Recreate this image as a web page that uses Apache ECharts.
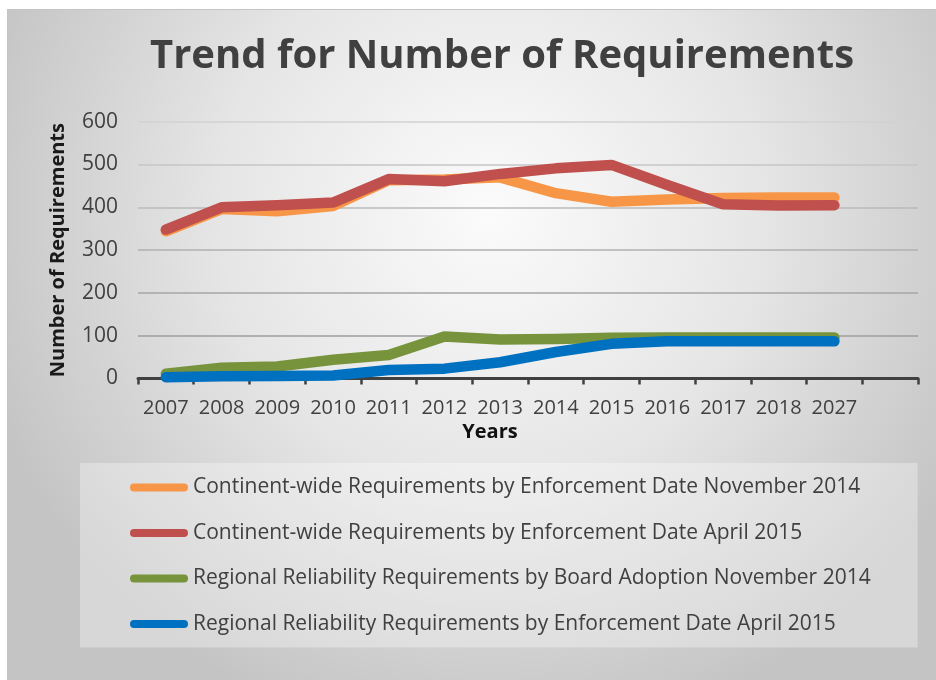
<!DOCTYPE html>
<html>
<head>
<meta charset="utf-8">
<script src="https://cdn.jsdelivr.net/npm/echarts@6/dist/echarts.min.js"></script>
<style>
html,body{margin:0;padding:0;background:#ffffff;width:936px;height:680px;overflow:hidden;}
#wrap{position:absolute;left:7px;top:9px;width:929px;height:671px;border-top:1px solid #c4c4c4;border-left:1px solid #c4c4c4;box-sizing:border-box;}
#chart{position:absolute;left:0;top:0;width:928px;height:670px;}
</style>
</head>
<body>
<div id="wrap"><div id="chart"></div></div>
<script>
// ---- data ----
var years = ['2007','2008','2009','2010','2011','2012','2013','2014','2015','2016','2017','2018','2027'];
var yTicks = [0, 100, 200, 300, 400, 500, 600];
var contNov2014 = [344, 396, 391, 403, 463, 465, 470, 433, 413, 418, 422, 423, 423];
var contApr2015 = [348, 400, 405, 411, 466, 461, 478, 491, 499, 452, 407, 404, 405];
var regBoardNov2014 = [11, 25, 28, 44, 55, 98, 91, 92, 95, 96, 96, 96, 96];
var regEnfApr2015 = [3, 5, 6, 7, 20, 23, 38, 62, 81, 87, 87, 87, 87];
var seriesNames = [
  'Continent-wide Requirements by Enforcement Date November 2014',
  'Continent-wide Requirements by Enforcement Date April 2015',
  'Regional Reliability Requirements by Board Adoption November 2014',
  'Regional Reliability Requirements by Enforcement Date April 2015'
];
var seriesColors = ['#F79646', '#C0504D', '#77933C', '#0070C0'];
var seriesData = [contNov2014, contApr2015, regBoardNov2014, regEnfApr2015];

var FONT = 'Open Sans';
var chart = echarts.init(document.getElementById('chart'), null, {renderer: 'canvas'});
var legendIcon = 'path://M4,0 L54,0 A4,4 0 0 1 54,8 L4,8 A4,4 0 0 1 4,0 Z';

var option = {
  backgroundColor: {
    type: 'radial', x: 0.52, y: 0.3, r: 0.8,
    colorStops: [
      {offset: 0, color: '#fbfbfb'},
      {offset: 0.5, color: '#e6e6e6'},
      {offset: 1, color: '#c4c4c4'}
    ]
  },
  animation: false,
  title: {
    text: 'Trend for Number of Requirements',
    left: 142,
    top: 27,
    padding: 0,
    textStyle: {fontFamily: FONT, fontWeight: 'bold', fontSize: 40, color: '#404040'}
  },
  legend: {
    orient: 'vertical',
    left: 72,
    top: 453,
    padding: [11, 47, 10, 50],
    backgroundColor: 'rgba(255,255,255,0.32)',
    itemWidth: 58,
    itemHeight: 8,
    itemGap: 18.5,
    icon: legendIcon,
    data: seriesNames,
    textStyle: {fontFamily: FONT, fontSize: 21, color: '#404040', lineHeight: 27}
  },
  grid: {left: 130, right: 18, top: 111.7, bottom: 301.5, containLabel: false},
  xAxis: {
    type: 'category',
    data: years.concat(['']),
    boundaryGap: true,
    name: 'Years',
    nameLocation: 'middle',
    nameGap: 44,
    nameTextStyle: {fontFamily: FONT, fontWeight: 'bold', fontSize: 20, color: '#111111', padding: [0, 76, 0, 0]},
    axisLine: {lineStyle: {color: '#404040', width: 3}},
    axisTick: {show: true, interval: 0, length: 6, lineStyle: {color: '#404040', width: 2.5}},
    axisLabel: {interval: 0, margin: 20, fontFamily: FONT, fontSize: 20, color: '#404040'}
  },
  yAxis: {
    type: 'value',
    min: yTicks[0],
    max: yTicks[yTicks.length - 1],
    interval: 100,
    name: 'Number of Requirements',
    nameLocation: 'middle',
    nameGap: 70,
    nameTextStyle: {fontFamily: FONT, fontWeight: 'bold', fontSize: 20, color: '#1a1a1a'},
    axisLine: {show: false},
    axisTick: {show: false},
    axisLabel: {margin: 20, fontFamily: FONT, fontSize: 21, color: '#404040'},
    splitLine: {lineStyle: {width: 1.5, color: ['#9a9a9a', '#9e9e9e', '#a6a6a6', '#b0b0b0', '#bababa', '#c6c6c6', '#d2d2d2']}}
  },
  series: seriesNames.map(function (n, i) {
    return {
      name: n,
      type: 'line',
      data: seriesData[i],
      showSymbol: false,
      symbol: 'none',
      smooth: false,
      color: seriesColors[i],
      lineStyle: {width: 10.5, color: seriesColors[i], cap: 'round', join: 'round'}
    };
  })
};
chart.setOption(option);
</script>
</body>
</html>
